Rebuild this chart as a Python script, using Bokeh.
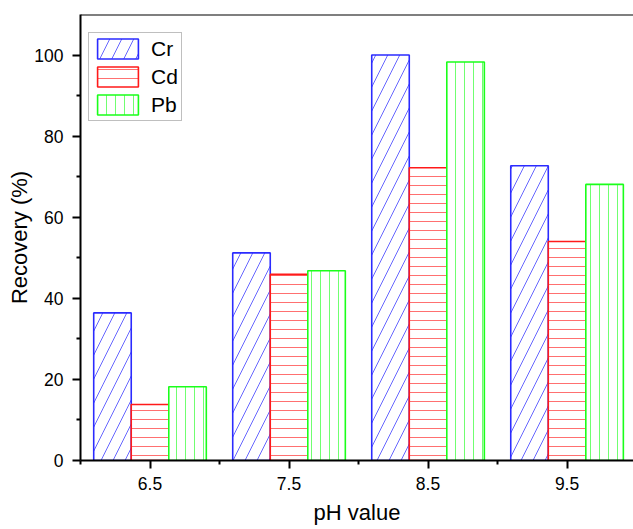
from bokeh.plotting import figure
from bokeh.models import Range1d, FixedTicker, Legend, LegendItem, Span
from bokeh.embed import file_html
from bokeh.resources import INLINE

# ---- data ----
ph = [6.5, 7.5, 8.5, 9.5]
cr = [36.4, 51.2, 100.0, 72.7]
cd = [13.8, 45.9, 72.2, 54.0]
pb = [18.2, 46.8, 98.3, 68.1]
series_names = ["Cr", "Cd", "Pb"]
y_major = [0, 20, 40, 60, 80, 100]
y_minor = [10, 30, 50, 70, 90]
x_minor = [6.0, 7.0, 8.0, 9.0]

FONT = "Liberation Sans"
bar_w = 0.27

p = figure(width=633, height=529, output_backend="svg", toolbar_location=None,
           x_range=Range1d(6.0, 9.978), y_range=Range1d(0, 110),
           min_border_left=80, min_border_right=0, min_border_top=14, min_border_bottom=69)
p.outline_line_color = None
p.xgrid.visible = False
p.ygrid.visible = False
p.background_fill_color = "white"
p.border_fill_color = "white"

styles = [
    dict(line_color="#2b2bff", hatch_color="#5555ff", hatch_pattern="/", hatch_scale=24),
    dict(line_color="#ff1a1a", hatch_color="#ff6060", hatch_pattern="-", hatch_scale=9),
    dict(line_color="#1aff1a", hatch_color="#60ff60", hatch_pattern="|", hatch_scale=9),
]
offsets = [-bar_w, 0.0, bar_w]
renderers = []
for vals, st, off in zip([cr, cd, pb], styles, offsets):
    xs = [v + off for v in ph]
    r = p.vbar(x=xs, top=vals, bottom=0, width=bar_w, fill_color="white",
               line_color=st["line_color"], line_width=1.6,
               hatch_pattern=st["hatch_pattern"], hatch_color=st["hatch_color"],
               hatch_scale=st["hatch_scale"], hatch_weight=1.0, hatch_alpha=0.9)
    renderers.append(r)

# top frame line
p.add_layout(Span(location=110, dimension="width", line_color="black", line_width=2))

# axes
xa = p.xaxis[0]
xa.ticker = FixedTicker(ticks=ph, minor_ticks=x_minor)
ya = p.yaxis[0]
ya.ticker = FixedTicker(ticks=y_major, minor_ticks=y_minor)
for ax in (xa, ya):
    ax.axis_line_width = 2
    ax.axis_line_color = "black"
    ax.major_tick_line_width = 2
    ax.minor_tick_line_width = 2
    ax.major_tick_out = 8
    ax.major_tick_in = 0
    ax.minor_tick_out = 4
    ax.minor_tick_in = 0
    ax.major_label_text_font = FONT
    ax.major_label_text_font_size = "17.5px"
    ax.major_label_text_color = "black"
    ax.axis_label_text_font = FONT
    ax.axis_label_text_font_size = "22px"
    ax.axis_label_text_font_style = "normal"
    ax.axis_label_text_color = "black"
xa.axis_label = "pH value"
ya.axis_label = "Recovery (%)"
xa.major_label_standoff = 8
ya.major_label_standoff = 9
xa.axis_label_standoff = 7
ya.axis_label_standoff = -1

legend = Legend(items=[LegendItem(label=n, renderers=[r]) for n, r in zip(series_names, renderers)],
                location=(8, 339), orientation="vertical")
legend.label_text_font = FONT
legend.label_text_font_size = "21px"
legend.label_text_color = "black"
legend.glyph_width = 51
legend.glyph_height = 25
legend.label_height = 25
legend.spacing = 3
legend.padding = 3
legend.margin = 0
legend.label_standoff = 8
legend.border_line_color = "#808080"
legend.border_line_width = 1.5
legend.background_fill_color = "white"
legend.background_fill_alpha = 1.0
p.add_layout(legend)

open("out.html", "w").write(file_html(p, INLINE))
